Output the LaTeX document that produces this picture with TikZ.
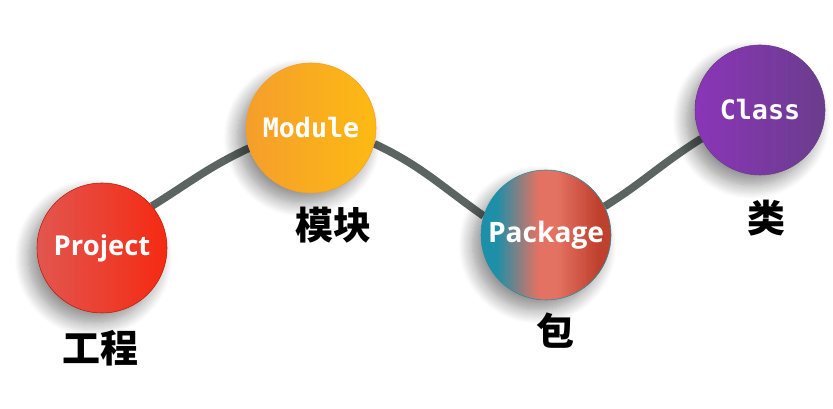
\documentclass[tikz,border=0pt]{standalone}
\usepackage{fontspec}
\setsansfont{Open Sans}
\setmonofont{DejaVu Sans Mono}
\newfontfamily\cjk{Noto Sans CJK SC}
\usetikzlibrary{shadows.blur, backgrounds}
\definecolor{linkgray}{HTML}{5B6461}
\definecolor{projleft}{HTML}{E2564F}
\definecolor{projright}{HTML}{F52A12}
\definecolor{modleft}{HTML}{F59E2C}
\definecolor{modright}{HTML}{FDBA12}
\definecolor{pkgleft}{HTML}{1E8FA8}
\definecolor{pkgmid}{HTML}{E47262}
\definecolor{pkgright}{HTML}{C0402E}
\definecolor{clsleft}{HTML}{8B35B8}
\definecolor{clsright}{HTML}{6A3D8C}
\pgfdeclarehorizontalshading{pkgshade}{100bp}{color(0bp)=(pkgleft); color(31bp)=(pkgleft);
  color(47bp)=(pkgmid); color(54bp)=(pkgmid); color(70bp)=(pkgright); color(100bp)=(pkgright)}
\begin{document}
\begin{tikzpicture}[
  ball/.style={circle, minimum size=3.25cm, inner sep=0pt, text=white, thin,
    blur shadow={shadow xshift=-6pt, shadow yshift=-7pt, shadow blur radius=10pt, shadow blur steps=14, shadow opacity=45}},
  tag/.style={font=\cjk\bfseries\fontsize{27}{27}\selectfont},
  link/.style={draw=linkgray, line width=5.5pt}]
\useasboundingbox (0,0) rectangle (20.825,10.225);
% Nodes
\node[ball, left color=projleft, right color=projright, draw=projright!75!black,
  font=\sffamily\bfseries\fontsize{19.5}{19.5}\selectfont] (proj) at (2.55,4.025) {Project};
\node[ball, left color=modleft, right color=modright, draw=modleft,
  font=\ttfamily\bfseries\fontsize{19}{19}\selectfont] (mod) at (7.775,7.025) {Module};
\node[ball, shading=pkgshade, draw=pkgleft,
  font=\sffamily\bfseries\fontsize{20}{20}\selectfont] (pkg) at (13.65,4.35) {Package};
\node[ball, left color=clsleft, right color=clsright, draw=clsright,
  font=\ttfamily\bfseries\fontsize{19}{19}\selectfont] (cls) at (19.0,7.475) {Class};

% Labels
\node[tag] (projtag) at (2.5,1.525) {工程};
\node[tag] (modtag) at (8.325,4.6) {模块};
\node[tag] (pkgtag) at (13.875,1.95) {包};
\node[tag] (clstag) at (19.15,4.775) {类};

% Links
\begin{scope}[on background layer]
\draw[link] (proj.40) to[out=32, in=205] (mod.198);
\draw[link] (mod.-14) to[out=-25, in=145] (pkg.163);
\draw[link] (pkg.26) to[out=32, in=212] (cls.206);
\end{scope}
\end{tikzpicture}
\end{document}
